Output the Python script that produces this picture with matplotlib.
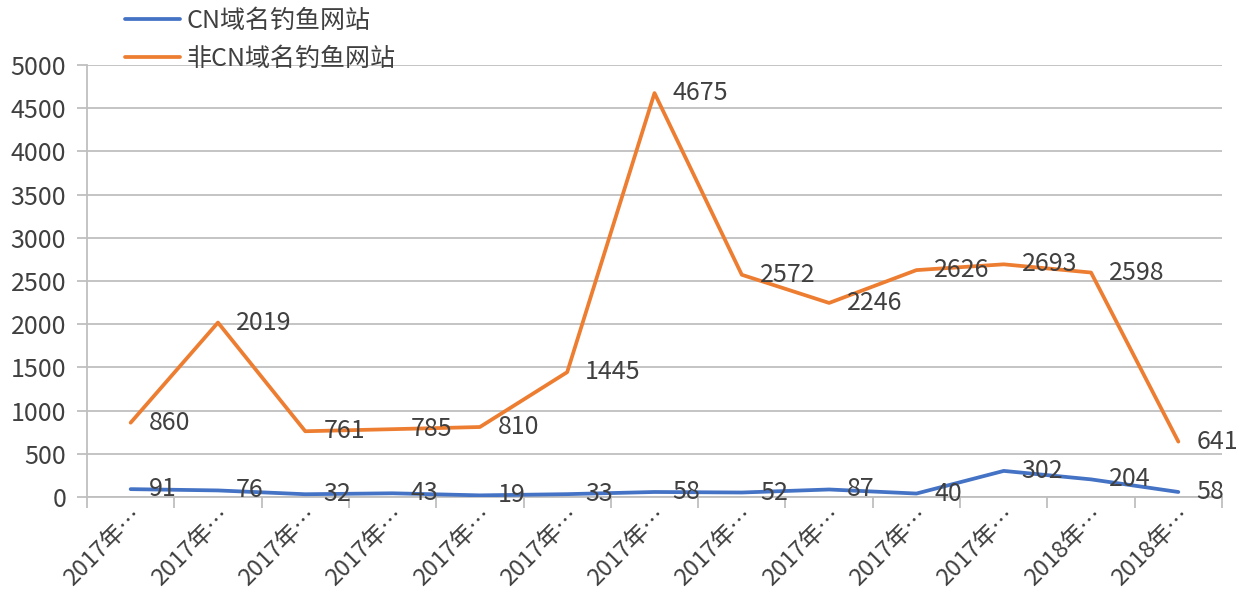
import matplotlib
matplotlib.use("Agg")
import matplotlib.pyplot as plt

plt.rcParams['font.family'] = ['Noto Sans CJK SC', 'DejaVu Sans']

categories = ["2017年…"] * 11 + ["2018年…"] * 2
cn_values = [91, 76, 32, 43, 19, 33, 58, 52, 87, 40, 302, 204, 58]
non_cn_values = [860, 2019, 761, 785, 810, 1445, 4675, 2572, 2246, 2626, 2693, 2598, 641]
series_names = ["CN域名钓鱼网站", "非CN域名钓鱼网站"]
yticks = list(range(0, 5001, 500))

blue = "#4472C4"
orange = "#ED7D31"
grid_c = "#BFBFBF"
txt_c = "#404040"
fs = 18

fig = plt.figure(figsize=(12.51, 5.91), dpi=100)
ax = fig.add_axes([87/1251, 1-497/591, (1222-87)/1251, (497-65)/591])

x = list(range(len(categories)))
l1, = ax.plot(x, cn_values, color=blue, lw=2.7, solid_capstyle='round', zorder=3)
l2, = ax.plot(x, non_cn_values, color=orange, lw=2.7, solid_capstyle='round', zorder=3)

for xi, v in zip(x, cn_values):
    ax.annotate(str(v), (xi, v), xytext=(18, 0), textcoords='offset pixels',
                ha='left', va='center', fontsize=fs, color=txt_c, zorder=4)
for xi, v in zip(x, non_cn_values):
    ax.annotate(str(v), (xi, v), xytext=(18, 0), textcoords='offset pixels',
                ha='left', va='center', fontsize=fs, color=txt_c, zorder=4)

ax.set_xlim(-0.5, len(categories) - 0.5)
ax.set_ylim(0, 5000)
ax.set_yticks(yticks)
ax.set_yticklabels([str(t) for t in yticks], fontsize=fs, color=txt_c)
ax.yaxis.grid(True, color=grid_c, lw=1.3)
ax.set_axisbelow(True)

# category ticks between bands
ax.set_xticks([i - 0.5 for i in range(len(categories) + 1)])
ax.set_xticklabels([])
ax.set_xticks(x, minor=True)
ax.set_xticklabels(categories, minor=True, rotation=45, ha='right', va='top',
                   rotation_mode='anchor', fontsize=17, color=txt_c)
ax.tick_params(axis='x', which='major', length=8, width=1.3, color=grid_c, direction='out')
ax.tick_params(axis='x', which='minor', length=0, pad=5)
ax.tick_params(axis='y', length=7, width=1.3, color=grid_c, pad=8)

for s in ['top', 'right']:
    ax.spines[s].set_visible(False)
ax.spines['left'].set_color(grid_c)
ax.spines['left'].set_linewidth(1.3)
ax.spines['bottom'].set_color(grid_c)
ax.spines['bottom'].set_linewidth(1.3)

fig.legend([l1, l2], series_names, loc='upper left', bbox_to_anchor=(102/1251, 1.025),
           frameon=False, fontsize=fs, handlelength=2.2, handletextpad=0.3,
           labelspacing=0.5, labelcolor=txt_c)

fig.savefig("out.png", dpi=100)
